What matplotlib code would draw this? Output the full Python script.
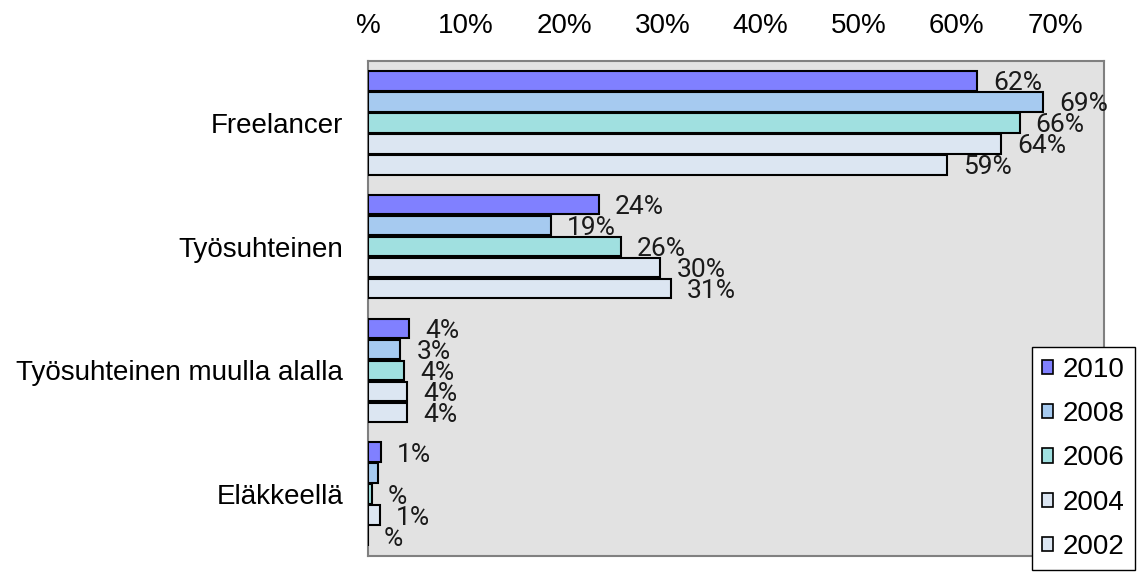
import matplotlib
matplotlib.use("Agg")
import matplotlib.pyplot as plt
from matplotlib.patches import Patch

categories = ["Freelancer", "Työsuhteinen", "Työsuhteinen muulla alalla", "Eläkkeellä"]
years = ["2010", "2008", "2006", "2004", "2002"]
colors = ["#8080FF", "#A6CAF0", "#A0E0E0", "#DCE6F2", "#DCE6F2"]

# values in %, one list per year (category order as above)
v2010 = [62.1, 23.5, 4.2, 1.3]
v2008 = [68.8, 18.6, 3.3, 1.0]
v2006 = [66.4, 25.8, 3.7, 0.4]
v2004 = [64.5, 29.8, 4.0, 1.2]
v2002 = [59.0, 30.9, 4.0, 0.0]
series = [v2010, v2008, v2006, v2004, v2002]

# labels that the original chart did not show (year index, category index)
hidden = [(1, 3)]

fig = plt.figure(figsize=(11.39, 5.76), dpi=100)
ax = fig.add_axes([0.3231, 0.0347, 0.6462, 0.8594])
ax.set_facecolor("#E2E2E2")

slot = 0.17
for i, vals in enumerate(series):
    offs = (i - 2) * slot
    ys = [c + offs for c in range(len(categories))]
    ax.barh(ys, vals, height=0.158, color=colors[i], edgecolor="black",
            linewidth=1.5, label=years[i], zorder=3)
    for c, v in enumerate(vals):
        if (i, c) in hidden:
            continue
        r = round(v)
        txt = "%" if r == 0 else "%d%%" % r
        ax.text(v + 1.63, ys[c], txt, ha="left", va="center_baseline",
                fontsize=19, family="Roboto", color="#1a1a1a", zorder=4)

ax.set_ylim(3.5, -0.5)
ax.set_xlim(0, 75)
ax.set_yticks(range(len(categories)))
ax.set_yticklabels(categories, fontsize=20, family="Liberation Sans")
xt = [0, 10, 20, 30, 40, 50, 60, 70]
ax.set_xticks(xt)
ax.set_xticklabels(["%"] + ["%d%%" % t for t in xt[1:]], fontsize=20,
                   family="Liberation Sans")
ax.xaxis.tick_top()
ax.tick_params(axis="x", length=0, pad=16)
ax.tick_params(axis="y", length=0, pad=18)
for s in ax.spines.values():
    s.set_color("#808080")
    s.set_linewidth(1.5)

handles = [Patch(facecolor=colors[i], edgecolor="black", linewidth=1.2, label=years[i])
           for i in range(len(years))]
leg = fig.legend(handles=handles, loc="upper left", bbox_to_anchor=(0.906, 0.398),
                 bbox_transform=fig.transFigure, borderaxespad=0, fancybox=False,
                 framealpha=1, edgecolor="black", handlelength=0.4, handleheight=0.4,
                 handletextpad=0.35, labelspacing=0.66, borderpad=0.36,
                 prop={"family": "Liberation Sans", "size": 20})
leg.get_frame().set_linewidth(1.0)

fig.savefig("out.png", dpi=100)
